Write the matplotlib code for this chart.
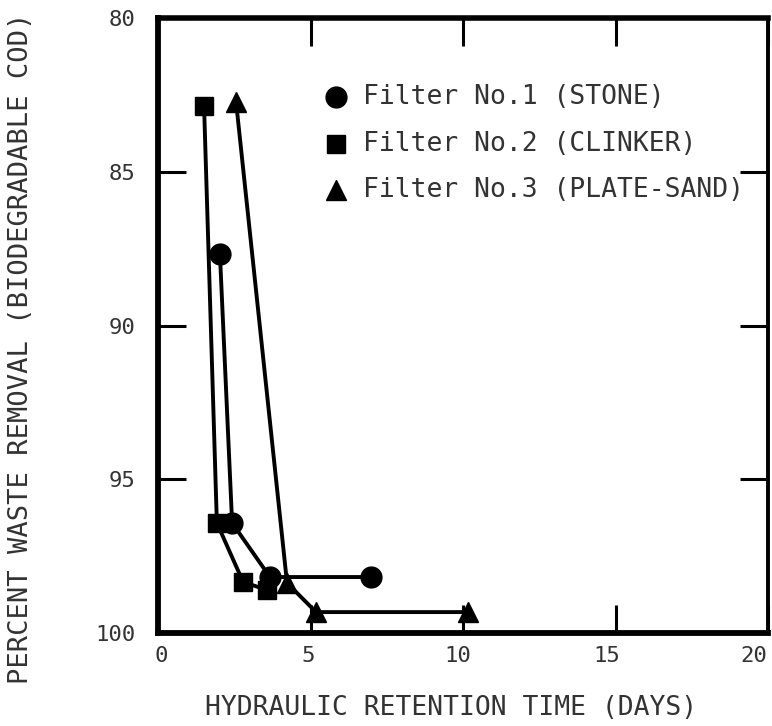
"""Percent waste removal vs hydraulic retention time for three filter media."""
import matplotlib

matplotlib.use("Agg")
import matplotlib.pyplot as plt
from matplotlib.transforms import ScaledTranslation

# values
stone_days = [2.03, 2.43, 3.67, 6.98]
stone_removal = [87.67, 96.42, 98.18, 98.18]

clinker_days = [1.51, 1.93, 2.79, 3.57]
clinker_removal = [82.86, 96.42, 98.34, 98.60]

sand_days = [2.56, 4.23, 5.18, 10.16]
sand_removal = [82.73, 98.37, 99.32, 99.32]

series_labels = ["Filter No.1 (STONE)", "Filter No.2 (CLINKER)", "Filter No.3 (PLATE-SAND)"]
x_ticks = [0, 5, 10, 15, 20]
y_ticks = [80, 85, 90, 95, 100]

MONO = ["DejaVu Sans Mono"]
INK = "black"
TEXT = "#333333"
W, H = 772, 726

fig = plt.figure(figsize=(W / 100, H / 100), dpi=100)
ax = fig.add_axes([158 / W, 1 - 633 / H, (768 - 158) / W, (633 - 18) / H])

series = [
    (stone_days, stone_removal, "o", 15),
    (clinker_days, clinker_removal, "s", 13),
    (sand_days, sand_removal, "^", 15),
]
for (xs, ys, mk, ms), lab in zip(series, series_labels):
    ax.plot(xs, ys, color=INK, lw=2.8, marker=mk, ms=ms, mec=INK, mfc=INK,
            label=lab, zorder=3, clip_on=False)

ax.set_xlim(0, 20)
ax.set_ylim(100, 80)
ax.set_xticks(x_ticks)
ax.set_yticks(y_ticks)
ax.tick_params(axis="both", which="major", direction="in", length=20, width=2.2,
               color=INK, top=True, right=True, labelsize=16, labelcolor=TEXT)
ax.tick_params(axis="y", pad=16)
ax.tick_params(axis="x", pad=9)
for lbl in ax.get_xticklabels() + ax.get_yticklabels():
    lbl.set_family(MONO)

# the scanned x labels drift left of their ticks towards the right end
x_label_shift = [3, -2, -5, -9, -14]
for lbl, dx in zip(ax.get_xticklabels(), x_label_shift):
    lbl.set_transform(lbl.get_transform() + ScaledTranslation(dx / 100, 0, fig.dpi_scale_trans))

for side, lw in (("left", 4.2), ("bottom", 4.2), ("top", 4.0), ("right", 2.8)):
    ax.spines[side].set_linewidth(lw)
    ax.spines[side].set_color(INK)

fig.text(451 / W, 1 - 708 / H, "HYDRAULIC RETENTION TIME (DAYS)", family=MONO,
         fontsize=19, color=TEXT, ha="center", va="center")
fig.text(21 / W, 1 - 348 / H, "PERCENT WASTE REMOVAL (BIODEGRADABLE COD)",
         family=MONO, fontsize=19.5, color=TEXT, ha="center", va="center",
         rotation=90)

# legend drawn by hand as marker + text rows
markers = ["o", "s", "^"]
sizes = [15, 13, 15]
rows_y = [0.8715, 0.795, 0.720]
for mk, ms, lab, yy in zip(markers, sizes, series_labels, rows_y):
    ax.plot([0.292], [yy], marker=mk, ms=ms, color=INK, transform=ax.transAxes,
            clip_on=False, zorder=4)
    ax.text(0.336, yy, lab, transform=ax.transAxes, family=MONO, fontsize=19,
            color=TEXT, va="center", ha="left")

fig.savefig("out.png", dpi=100)
